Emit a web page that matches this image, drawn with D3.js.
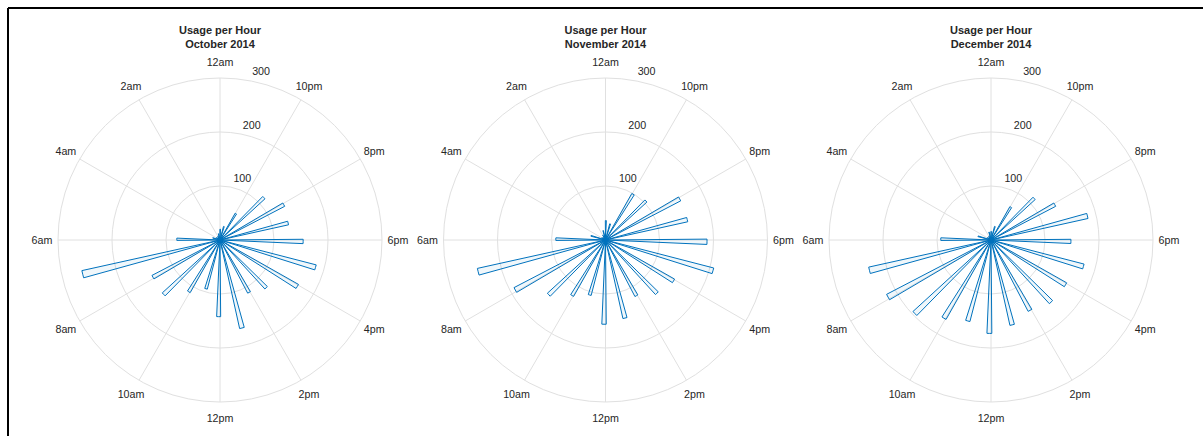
<!DOCTYPE html>
<html>
<head>
<meta charset="utf-8">
<script src="https://cdn.jsdelivr.net/npm/d3@7"></script>
<style>
  body { margin: 0; background: #fff; }
  svg text { font-family: "Liberation Sans", Arial, Helvetica, sans-serif; fill: #262626; }
</style>
</head>
<body>
<div id="chart"></div>
<script>
// usage counts per hour of day (0 = 12am ... 23 = 11pm)
const hours = d3.range(24);
const octCounts = [20, 12, 8, 6, 8, 14, 80, 262, 142, 145, 112, 94, 142, 168, 111, 123, 167, 184, 154, 130, 135, 113, 57, 26];
const novCounts = [36, 18, 10, 6, 8, 28, 92, 243, 191, 146, 120, 106, 156, 149, 118, 137, 147, 207, 188, 156, 157, 104, 99, 31];
const decCounts = [16, 15, 8, 6, 8, 25, 93, 232, 218, 196, 169, 156, 173, 162, 149, 160, 161, 178, 148, 184, 135, 111, 71, 26];

const monthNames = ["October 2014", "November 2014", "December 2014"];
const monthCounts = [octCounts, novCounts, decCounts];

const thetaTicks = [0, 2, 4, 6, 8, 10, 12, 14, 16, 18, 20, 22];
const thetaLabels = ["12am", "2am", "4am", "6am", "8am", "10am", "12pm", "2pm", "4pm", "6pm", "8pm", "10pm"];
const rTicks = [100, 200, 300];

const width = 1203, height = 436;
const R = 162;
const centersX = [220, 605.5, 991];
const cy = 240;

const svg = d3.select("#chart").append("svg")
    .attr("width", width)
    .attr("height", height);

// frame lines (top and left)
svg.append("line").attr("x1", 8).attr("y1", 8).attr("x2", width).attr("y2", 8)
    .attr("stroke", "#000").attr("stroke-width", 2);
svg.append("line").attr("x1", 8).attr("y1", 8).attr("x2", 8).attr("y2", height)
    .attr("stroke", "#000").attr("stroke-width", 2);

// radius and angle scales; angle follows d3.arc convention (0 at top, clockwise),
// hours run counterclockwise so the range is negative
const r = d3.scaleLinear().domain([0, 300]).range([0, R]);
const angle = d3.scaleLinear().domain([0, 24]).range([0, -2 * Math.PI]);
const deg = Math.PI / 180;

const arc = d3.arc()
    .innerRadius(0)
    .outerRadius(d => r(d.value))
    .startAngle(d => angle(d.hour) - 0.5 * deg)
    .endAngle(d => angle(d.hour) + 2.5 * deg);

function drawPolar(cx, title, counts) {
    let g = svg.append("g").attr("transform", "translate(" + cx + "," + cy + ")");

    // grid circles
    g.selectAll(".ring")
        .data(rTicks)
        .enter().append("circle")
        .attr("class", "ring")
        .attr("r", d => r(d))
        .attr("fill", "none")
        .attr("stroke", "#e0e0e0")
        .attr("stroke-width", 1);

    // spokes
    g.selectAll(".spoke")
        .data(thetaTicks)
        .enter().append("line")
        .attr("class", "spoke")
        .attr("x1", 0).attr("y1", 0)
        .attr("x2", d => R * Math.sin(angle(d)))
        .attr("y2", d => -R * Math.cos(angle(d)))
        .attr("stroke", "#e0e0e0")
        .attr("stroke-width", 1);

    // bars
    let data = hours.map(h => ({hour: h, value: counts[h]}));
    g.selectAll(".bar")
        .data(data)
        .enter().append("path")
        .attr("class", "bar")
        .attr("d", arc)
        .attr("fill", "rgba(0,114,189,0.06)")
        .attr("stroke", "#0072BD")
        .attr("stroke-width", 1);

    // theta labels
    g.selectAll(".tlabel")
        .data(thetaTicks)
        .enter().append("text")
        .attr("class", "tlabel")
        .attr("x", d => 178 * Math.sin(angle(d)))
        .attr("y", d => -178 * Math.cos(angle(d)))
        .attr("text-anchor", "middle")
        .attr("dominant-baseline", "central")
        .style("font-size", "10.7px")
        .text((d, i) => thetaLabels[i]);

    // radial tick labels
    g.selectAll(".rlabel")
        .data(rTicks)
        .enter().append("text")
        .attr("class", "rlabel")
        .attr("x", d => r(d) * Math.sin(10 * deg) + 4)
        .attr("y", d => -r(d) * Math.cos(10 * deg) - 5)
        .style("font-size", "10.7px")
        .text(d => d);

    // title
    let t = svg.append("text")
        .attr("x", cx)
        .attr("text-anchor", "middle")
        .style("font-size", "11px")
        .style("font-weight", "bold");
    t.append("tspan").attr("x", cx).attr("y", 34).text("Usage per Hour");
    t.append("tspan").attr("x", cx).attr("y", 48).text(title);
}

monthCounts.forEach((c, i) => drawPolar(centersX[i], monthNames[i], c));
</script>
</body>
</html>
